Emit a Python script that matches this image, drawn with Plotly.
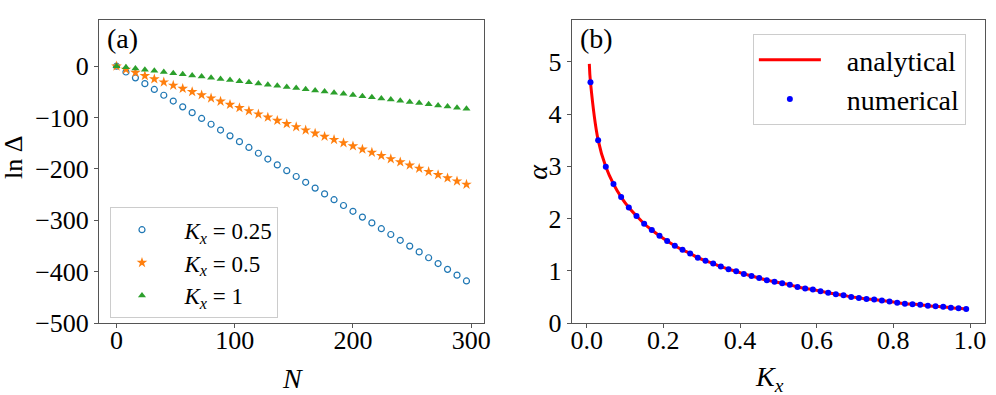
"""Two-panel figure: ln Delta vs N and alpha vs K_x."""

import plotly.graph_objects as go
from plotly.subplots import make_subplots

# ---- panel (a): ln Delta against chain length N ----
n_sites = [0, 8, 16, 24, 32, 40, 48, 56, 64, 72, 80, 88, 96, 104, 112, 120,
           128, 136, 144, 152, 160, 168, 176, 184, 192, 200, 208, 216, 224,
           232, 240, 248, 256, 264, 272, 280, 288, 296]
ln_delta_k025 = [0.0, -11.3, -22.6, -33.9, -45.2, -56.5, -67.8, -79.1, -90.4,
                 -101.7, -113.0, -124.3, -135.6, -146.9, -158.2, -169.5,
                 -180.8, -192.1, -203.4, -214.7, -226.0, -237.3, -248.6,
                 -259.9, -271.2, -282.5, -293.8, -305.1, -316.4, -327.7,
                 -339.0, -350.3, -361.6, -372.9, -384.2, -395.5, -406.8,
                 -418.1]
ln_delta_k05 = [0.0, -6.2, -12.4, -18.7, -24.9, -31.1, -37.3, -43.5, -49.8,
                -56.0, -62.2, -68.4, -74.6, -80.9, -87.1, -93.3, -99.5,
                -105.7, -112.0, -118.2, -124.4, -130.6, -136.8, -143.1,
                -149.3, -155.5, -161.7, -167.9, -174.2, -180.4, -186.6,
                -192.8, -199.0, -205.3, -211.5, -217.7, -223.9, -230.1]
ln_delta_k1 = [0.0, -2.2, -4.5, -6.7, -9.0, -11.2, -13.5, -15.7, -17.9, -20.2,
               -22.4, -24.7, -26.9, -29.2, -31.4, -33.6, -35.9, -38.1, -40.4,
               -42.6, -44.9, -47.1, -49.3, -51.6, -53.8, -56.1, -58.3, -60.6,
               -62.8, -65.0, -67.3, -69.5, -71.8, -74.0, -76.3, -78.5, -80.7,
               -83.0]

# ---- panel (b): decay rate alpha against K_x ----
kx_num = [0.01, 0.03, 0.05, 0.07, 0.09, 0.11, 0.13, 0.15, 0.17, 0.19, 0.21,
          0.23, 0.25, 0.27, 0.29, 0.31, 0.33, 0.35, 0.37, 0.39, 0.41, 0.43,
          0.45, 0.47, 0.49, 0.51, 0.53, 0.55, 0.57, 0.59, 0.61, 0.63, 0.65,
          0.67, 0.69, 0.71, 0.73, 0.75, 0.77, 0.79, 0.81, 0.83, 0.85, 0.87,
          0.89, 0.91, 0.93, 0.95, 0.97, 0.99]
alpha_num = [4.61, 3.50, 2.99, 2.66, 2.41, 2.21, 2.05, 1.90, 1.78, 1.67, 1.57,
             1.48, 1.40, 1.33, 1.25, 1.19, 1.14, 1.08, 1.03, 0.99, 0.94, 0.90,
             0.86, 0.82, 0.79, 0.76, 0.73, 0.69, 0.66, 0.64, 0.61, 0.58, 0.55,
             0.53, 0.50, 0.48, 0.46, 0.45, 0.43, 0.41, 0.39, 0.37, 0.36, 0.35,
             0.33, 0.32, 0.31, 0.29, 0.28, 0.27]
# analytical curve starts slightly left of the first numerical point
kx_ana = [0.007] + kx_num
alpha_ana = [4.96] + alpha_num

_FONT = "Liberation Serif"
_AXIS_COLOR = "#555555"
_NB = "\u00a0"  # non-breaking space, used to push legend text right

fig = make_subplots(rows=1, cols=2)

fig.add_trace(go.Scatter(
    x=n_sites, y=ln_delta_k025, mode="markers",
    name=_NB * 2 + "<i>K</i><sub><i>x</i></sub> = 0.25",
    marker={"symbol": "circle-open", "size": 6, "color": "#1f77b4",
            "line": {"width": 1.2}},
    legend="legend",
), row=1, col=1)
fig.add_trace(go.Scatter(
    x=n_sites, y=ln_delta_k05, mode="markers",
    name=_NB * 2 + "<i>K</i><sub><i>x</i></sub> = 0.5",
    marker={"symbol": "star", "size": 8, "color": "#ff7f0e"},
    legend="legend",
), row=1, col=1)
fig.add_trace(go.Scatter(
    x=n_sites, y=ln_delta_k1, mode="markers",
    name=_NB * 2 + "<i>K</i><sub><i>x</i></sub> = 1",
    marker={"symbol": "triangle-up", "size": 7, "color": "#2ca02c"},
    legend="legend",
), row=1, col=1)

fig.add_trace(go.Scatter(
    x=kx_ana, y=alpha_ana, mode="lines", name=_NB * 3 + "analytical",
    line={"color": "red", "width": 3, "shape": "spline"},
    legend="legend2",
), row=1, col=2)
fig.add_trace(go.Scatter(
    x=kx_num, y=alpha_num, mode="markers", name=_NB * 3 + "numerical",
    marker={"symbol": "circle", "size": 6, "color": "blue"},
    legend="legend2",
), row=1, col=2)

axis_style = dict(
    showgrid=False, zeroline=False, showline=True, mirror=True,
    linecolor=_AXIS_COLOR, linewidth=1, ticks="outside", ticklen=4,
    tickcolor=_AXIS_COLOR, automargin=False,
    tickfont={"family": _FONT, "size": 26, "color": "black"},
)
fig.update_xaxes(ticklabelstandoff=-10, **axis_style)
fig.update_yaxes(**axis_style)

fig.update_xaxes(range=[-14.8, 310.8], tickvals=[0, 100, 200, 300],
                 domain=[0.0, 0.4345], row=1, col=1)
fig.update_yaxes(range=[-500, 90], tickvals=[0, -100, -200, -300, -400, -500],
                 row=1, col=1)
fig.update_xaxes(range=[-0.039, 1.039], tickvals=[0, 0.2, 0.4, 0.6, 0.8, 1.0],
                 tickformat=".1f", domain=[0.5335, 1.0], row=1, col=2)
fig.update_yaxes(range=[0, 5.8], tickvals=[0, 1, 2, 3, 4, 5], row=1, col=2)

# axis titles and panel labels placed in paper coordinates
lbl = {"family": _FONT, "size": 28, "color": "black"}
for txt, x, y, ang, size in [
    ("ln Δ", -0.096, 0.548, -90, 26),
    ("<i>α</i>", 0.494, 0.498, -90, 28),
    ("<i>N</i>", 0.2185, -0.182, 0, 28),
    ("<i>K</i><sub><i>x</i></sub>", 0.757, -0.182, 0, 28),
    ("(a)", 0.027, 0.94, 0, 28),
    ("(b)", 0.562, 0.94, 0, 28),
]:
    fig.add_annotation(text=txt, x=x, y=y, xref="paper", yref="paper",
                       xanchor="center", yanchor="middle",
                       showarrow=False, textangle=ang,
                       font={**lbl, "size": size})

fig.update_layout(
    width=996, height=395,
    margin={"l": 99, "r": 11, "t": 20, "b": 72},
    plot_bgcolor="white", paper_bgcolor="white",
    font={"family": _FONT, "color": "black"},
    legend={"x": 0.0124, "y": 0.382, "xanchor": "left", "yanchor": "top",
            "bgcolor": "rgba(255,255,255,0.85)", "bordercolor": "#cccccc",
            "borderwidth": 1, "font": {"family": _FONT, "size": 23},
            "itemwidth": 52},
    legend2={"x": 0.738, "y": 0.954, "xanchor": "left", "yanchor": "top",
             "bgcolor": "rgba(255,255,255,0.85)", "bordercolor": "#cccccc",
             "borderwidth": 1, "font": {"family": _FONT, "size": 28},
             "itemwidth": 62},
)

# the page body has a default 8px margin; drop it so the figure sits at 0,0
fig.write_html("out.html", config={"displayModeBar": False},
               post_script="document.body.style.margin='0';")
